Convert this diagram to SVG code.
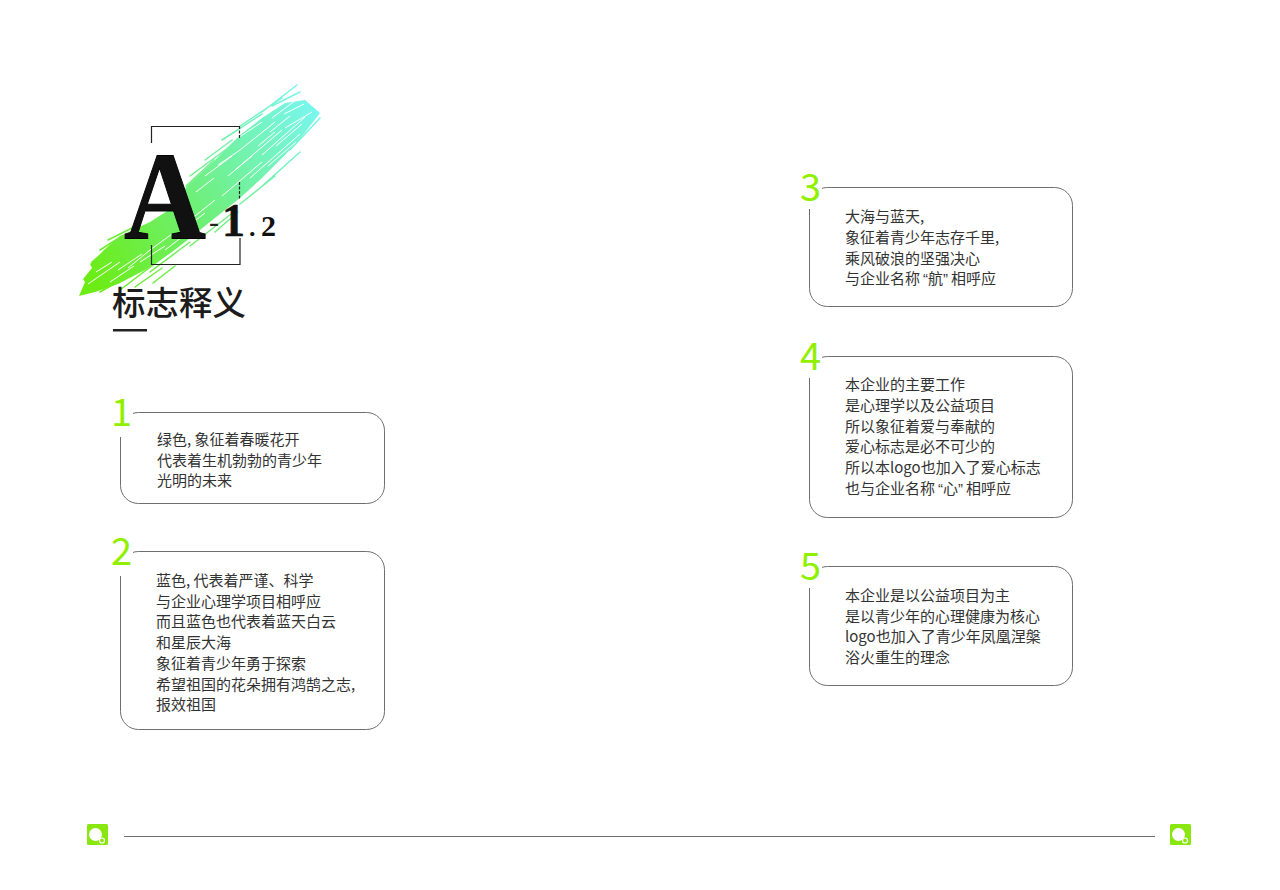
<svg xmlns="http://www.w3.org/2000/svg" width="1280" height="890" viewBox="0 0 1280 890">
<defs>
<linearGradient id="brush" gradientUnits="userSpaceOnUse" x1="85" y1="270" x2="320" y2="110"><stop offset="0" stop-color="#6cec14"/><stop offset="0.5" stop-color="#6ff084"/><stop offset="1" stop-color="#78f6f0"/></linearGradient>
<style>
.card{fill:#fff;stroke:#6f6f6f;stroke-width:1}
.num{font-family:"Noto Sans CJK SC","Noto Sans",sans-serif;font-size:38px;fill:#90f000}
.t{font-family:"Noto Sans CJK SC",sans-serif;font-size:15px;fill:#333}
.q{font-family:"Liberation Sans",sans-serif}
.gap{fill:#fff}
.feather{stroke:url(#brush);fill:none;stroke-linecap:round}
.streak{stroke:#fff;stroke-width:1;fill:none}
.brk{fill:none;stroke:#222;stroke-width:1.200}
.ser{font-family:"Liberation Serif",serif;font-weight:700;fill:#111}
.mark{fill:#8ae60f}
.hole{fill:#fff}
</style>
</defs>
<rect width="1280" height="890" fill="#fff"/>
<g id="brush-stroke">
<path fill="url(#brush)" d="M79 296L85 282 83 279 92 268 90 264 104 250 120 236 150 222 172 208 187 186 215 160 240 135 262 118 285 103 305 100 320 113 313 122 303 135 285 155 262 178 240 198 215 218 190 238 172 252 145 270 118 284 95 292Z"/>
<g class="feather" stroke-width="1.500">
<path d="M92 262L112 246M100 250L122 236M108 240L140 224M186 186L214 160M190 176L236 142M205 160L232 140M222 140L262 114M240 126L282 98M262 112L297 85M272 106L300 92M120 290L170 252M135 287L162 268M150 272L190 242M153 283L175 266M190 246L235 211M215 232L238 212M240 204L275 176M260 188L300 152M290 150L320 118M84 287L104 272M100 292L128 276"/>
</g>
<g class="streak">
<path d="M88 284L120 262M96 272L112 262M110 282L134 266M118 270L142 254M128 268L150 250M150 250L172 234M165 250L186 234M190 220L215 200M205 176L232 156M196 192L214 178M222 196L262 162M228 176L252 156M235 170L282 130M250 178L300 134M258 146L275 132M262 155L305 117M240 150L275 122M270 132L290 116M276 146L302 124M268 166L296 142M218 165L240 150M272 118L296 100M285 128L312 112M180 232L205 213M140 262L165 246M238 138L262 122M250 190L275 168M284 114L304 104M285 156L298 144"/>
</g>
</g>
<g id="title">
<path class="brk" d="M151.500 143V126.500H240M151.500 245V264.500H240V238"/>
<path class="brk" d="M239.500 126V138M239.500 182V200" stroke-dasharray="3 1.500"/>
<text class="ser" transform="translate(124 238) scale(0.915 1)" font-size="124" fill="#050505" stroke="#050505" stroke-width="1">A</text>
<text x="209" y="232" font-family="'Liberation Serif',serif" font-size="30" fill="#222">-</text>
<text class="ser" x="222" y="236" font-size="46" stroke="#111" stroke-width="0.500">1</text>
<text class="ser" x="249" y="236" font-size="26" fill="#222">.</text>
<text class="ser" x="261" y="236" font-size="30" fill="#222">2</text>
<text x="112" y="315" font-family="'Noto Sans CJK SC',sans-serif" font-size="33.500" font-weight="500" fill="#1c1c1c">标志释义</text>
<rect x="113" y="329" width="34" height="2.500" fill="#222"/>
</g>
<g id="node-1">
<rect class="card" x="120.500" y="412.500" width="264" height="91" rx="18"/>
<rect class="gap" x="112" y="405" width="21" height="32"/>
<text class="num" x="111" y="426">1</text>
<text class="t" x="157" y="445">绿色, 象征着春暖花开</text>
<text class="t" x="157" y="466">代表着生机勃勃的青少年</text>
<text class="t" x="157" y="486">光明的未来</text>
</g>
<g id="node-2">
<rect class="card" x="120.500" y="551.500" width="264" height="178" rx="18"/>
<rect class="gap" x="112" y="544" width="21" height="32"/>
<text class="num" x="111" y="565">2</text>
<text class="t" x="156" y="586">蓝色, 代表着严谨、科学</text>
<text class="t" x="156" y="607">与企业心理学项目相呼应</text>
<text class="t" x="156" y="627">而且蓝色也代表着蓝天白云</text>
<text class="t" x="156" y="648">和星辰大海</text>
<text class="t" x="156" y="669">象征着青少年勇于探索</text>
<text class="t" x="156" y="690">希望祖国的花朵拥有鸿鹄之志,</text>
<text class="t" x="156" y="710">报效祖国</text>
</g>
<g id="node-3">
<rect class="card" x="809.500" y="187.500" width="263" height="119" rx="18"/>
<rect class="gap" x="801" y="180" width="21" height="29"/>
<text class="num" x="800" y="201">3</text>
<text class="t" x="845" y="222">大海与蓝天,</text>
<text class="t" x="845" y="243">象征着青少年志存千里,</text>
<text class="t" x="845" y="264">乘风破浪的坚强决心</text>
<text class="t" x="845" y="284">与企业名称<tspan class="q" dx="3">“</tspan>航<tspan class="q">”</tspan><tspan dx="3">相呼应</tspan></text>
</g>
<g id="node-4">
<rect class="card" x="809.500" y="356.500" width="263" height="161" rx="18"/>
<rect class="gap" x="801" y="349" width="21" height="29"/>
<text class="num" x="800" y="370">4</text>
<text class="t" x="845" y="390">本企业的主要工作</text>
<text class="t" x="845" y="411">是心理学以及公益项目</text>
<text class="t" x="845" y="432">所以象征着爱与奉献的</text>
<text class="t" x="845" y="452">爱心标志是必不可少的</text>
<text class="t" x="845" y="473">所以本logo也加入了爱心标志</text>
<text class="t" x="845" y="494">也与企业名称<tspan class="q" dx="3">“</tspan>心<tspan class="q">”</tspan><tspan dx="3">相呼应</tspan></text>
</g>
<g id="node-5">
<rect class="card" x="809.500" y="566.500" width="263" height="119" rx="18"/>
<rect class="gap" x="801" y="559" width="21" height="29"/>
<text class="num" x="800" y="580">5</text>
<text class="t" x="845" y="601">本企业是以公益项目为主</text>
<text class="t" x="845" y="622">是以青少年的心理健康为核心</text>
<text class="t" x="845" y="642">logo也加入了青少年凤凰涅槃</text>
<text class="t" x="845" y="663">浴火重生的理念</text>
</g>
<g id="footer">
<path d="M124 836.500H1155" stroke="#6f6f6f" stroke-width="1"/>
<g id="logo-left"><rect class="mark" x="87" y="824" width="21" height="21" rx="1.500"/><circle class="hole" cx="95.500" cy="834.500" r="6.500"/><circle cx="102" cy="840.500" r="2.500" fill="#8ae60f" stroke="#fff" stroke-width="1.200"/></g>
<g id="logo-right"><rect class="mark" x="1170" y="824" width="21" height="21" rx="1.500"/><circle class="hole" cx="1178.500" cy="834.500" r="6.500"/><circle cx="1185" cy="840.500" r="2.500" fill="#8ae60f" stroke="#fff" stroke-width="1.200"/></g>
</g>
</svg>
